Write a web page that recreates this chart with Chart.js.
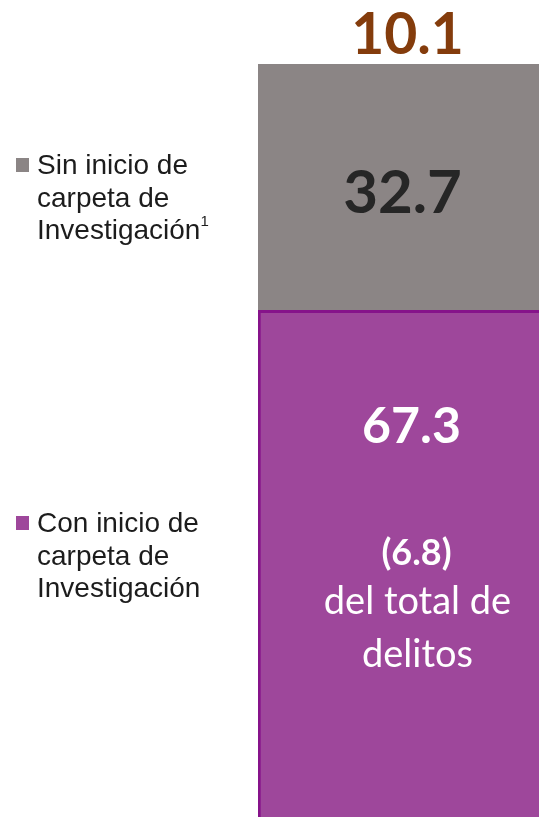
<!DOCTYPE html>
<html lang="es">
<head>
<meta charset="utf-8">
<title>Delitos con y sin carpeta de investigación</title>
<script src="https://cdn.jsdelivr.net/npm/chart.js@4/dist/chart.umd.min.js"></script>
<style>
  html, body { margin: 0; padding: 0; background: #fff; overflow: hidden; }
  #wrap { position: relative; width: 539px; height: 817px; overflow: hidden; }
  #resultsChart { position: absolute; left: 0; top: 0; }
  .leyenda { position: absolute; left: 0; width: 230px; font-family: "Liberation Sans", Arial, sans-serif;
             font-size: 28px; line-height: 32.5px; color: #1c1c1c; }
  .leyenda .marca { position: absolute; left: 16px; width: 13px; height: 14px; top: 9px; }
  .leyenda .texto { margin-left: 37px; width: 200px; }
  .leyenda sup { font-size: 15px; vertical-align: 13px; line-height: 0; }
</style>
</head>
<body>
<div id="wrap">
  <canvas id="resultsChart" width="580" height="817"></canvas>
  <div id="legendBox"></div>
</div>
<script>
// datos
const categorias   = ['Delitos'];
const seriesNombre = ['Con inicio de carpeta de Investigación', 'Sin inicio de carpeta de Investigación'];
const seriesNota   = ['', '1'];
const conInicio    = [67.3];
const sinInicio    = [32.7];
const totalArriba  = ['10.1'];
const delTotal     = ['6.8'];

const colores = ['#9e479b', '#8b8585'];

// etiquetas dentro de las barras y el total de arriba
const etiquetas = {
  id: 'etiquetas',
  afterDatasetsDraw(chart) {
    const ctx = chart.ctx;
    const con = chart.getDatasetMeta(0).data[0];
    const sin = chart.getDatasetMeta(1).data[0];
    const cx  = con.x;
    const medioGris = (sin.y + sin.base) / 2;

    ctx.save();
    ctx.textAlign = 'center';
    ctx.textBaseline = 'alphabetic';

    ctx.fillStyle = '#843c0c';
    ctx.font = 'bold 57px Lato';
    ctx.fillText(totalArriba[0], cx, sin.y - 10);

    ctx.fillStyle = '#262626';
    ctx.font = 'bold 60px Lato';
    ctx.fillText(sinInicio[0].toFixed(1), cx - 5, medioGris + 26);

    ctx.fillStyle = '#ffffff';
    ctx.font = 'bold 50px Lato';
    ctx.fillText(conInicio[0].toFixed(1), cx + 4, con.y + 133);

    ctx.font = 'bold 36px Lato';
    ctx.fillText('(' + delTotal[0] + ')', cx + 9, con.y + 255);

    ctx.font = '38px Lato';
    ctx.fillText('del total de', cx + 10, con.y + 304);
    ctx.fillText('delitos', cx + 10, con.y + 357);
    ctx.restore();
  }
};

const ctx = document.getElementById('resultsChart').getContext('2d');
const chart = new Chart(ctx, {
  type: 'bar',
  data: {
    labels: categorias,
    datasets: [
      { label: seriesNombre[0], data: conInicio, backgroundColor: colores[0],
        borderColor: '#86138a', borderWidth: 3, borderSkipped: 'bottom' },
      { label: seriesNombre[1], data: sinInicio, backgroundColor: colores[1], borderWidth: 0 }
    ]
  },
  options: {
    responsive: false,
    animation: false,
    layout: { padding: { left: 258, right: 23, top: 64, bottom: 0 } },
    datasets: { bar: { barPercentage: 1, categoryPercentage: 1 } },
    scales: {
      x: { stacked: true, display: false },
      y: { stacked: true, display: false, min: 0, max: 100 }
    },
    plugins: { legend: { display: false }, tooltip: { enabled: false } }
  },
  plugins: [etiquetas]
});

// leyenda a la izquierda, armada con los datasets
const legendTops = [507, 149];
const legendBox = document.getElementById('legendBox');
chart.data.datasets.forEach((ds, i) => {
  const item = document.createElement('div');
  item.className = 'leyenda';
  item.style.top = legendTops[i] + 'px';
  const marca = document.createElement('span');
  marca.className = 'marca';
  marca.style.background = ds.backgroundColor;
  const texto = document.createElement('div');
  texto.className = 'texto';
  texto.textContent = ds.label;
  if (seriesNota[i]) {
    const sup = document.createElement('sup');
    sup.textContent = seriesNota[i];
    texto.appendChild(sup);
  }
  item.appendChild(marca);
  item.appendChild(texto);
  legendBox.appendChild(item);
});
</script>
</body>
</html>
